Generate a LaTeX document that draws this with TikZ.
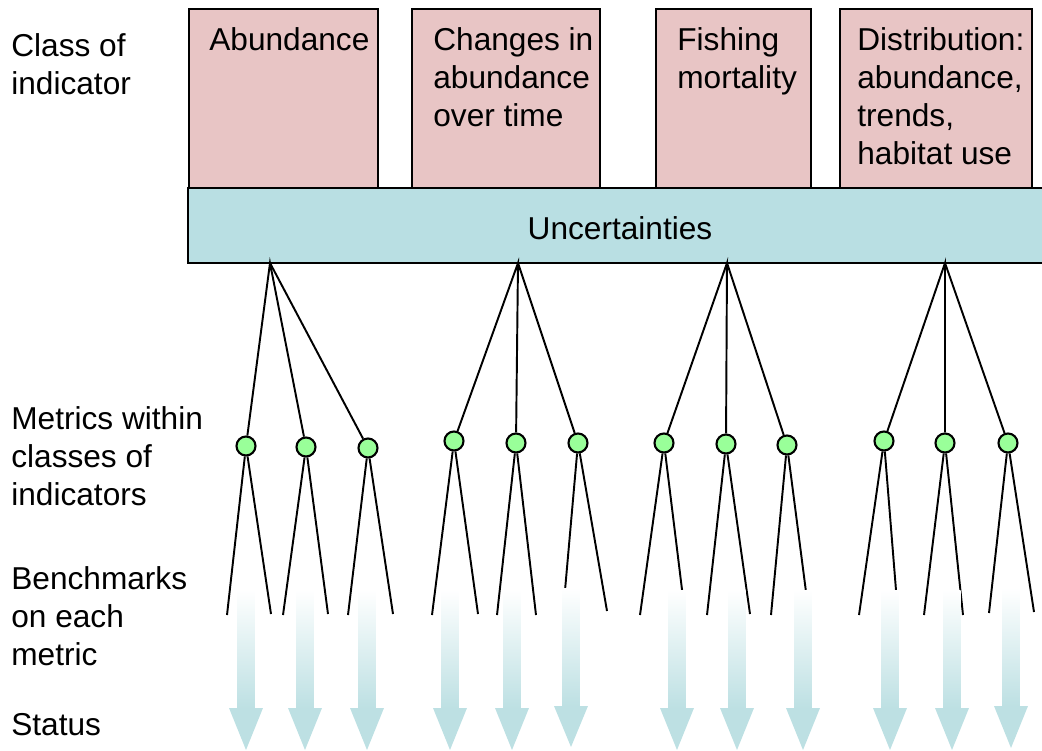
\documentclass[tikz,border=0pt]{standalone}
\usepackage{fontspec}
\setmainfont{Liberation Sans}
\usetikzlibrary{positioning}
\definecolor{classpink}{HTML}{E8C5C5}
\definecolor{uncblue}{HTML}{B9DFE3}
\definecolor{metricgreen}{HTML}{99FF99}
\definecolor{statusblue}{HTML}{BDE0E3}
\tikzset{
  txt/.style={font=\fontsize{18}{21.6}\selectfont, align=left, inner sep=0pt, anchor=north west},
  classbox/.style={draw, line width=1.3pt, fill=classpink, anchor=north west, inner sep=0pt},
  uncbox/.style={draw, line width=1.3pt, fill=uncblue, inner sep=0pt, text height=0.56cm, font=\fontsize{18}{21.6}\selectfont},
  metric/.style={circle, draw, line width=1.2pt, fill=metricgreen, minimum size=0.38cm, inner sep=0pt},
  link/.style={line width=1.1pt},
  statusshaft/.style={top color=white, bottom color=statusblue},
  statushead/.style={fill=statusblue}
}
\begin{document}
\begin{tikzpicture}
\useasboundingbox (0,0) rectangle (20.84,15);
% row labels
\node[txt] (lclass) at (0.22,14.34) {Class of\\indicator};
\node[txt] (lmetric) at (0.22,6.88) {Metrics within\\classes of\\indicators};
\node[txt] (lbench) at (0.22,3.68) {Benchmarks\\on each\\metric};
\node[txt] (lstatus) at (0.22,0.74) {Status};
% classes of indicator
\node[classbox, minimum width=3.78cm, minimum height=3.6cm] (abund) at (3.76,14.84) {};
\node[classbox, minimum width=3.76cm, minimum height=3.6cm] (change) at (8.22,14.84) {};
\node[classbox, minimum width=3.10cm, minimum height=3.6cm] (fish) at (13.10,14.84) {};
\node[classbox, minimum width=3.84cm, minimum height=3.6cm] (distr) at (16.78,14.84) {};
\node[txt, below right=0.38cm and 0.42cm of abund.north west] (tabund) {Abundance};
\node[txt, below right=0.38cm and 0.44cm of change.north west] (tchange) {Changes in\\abundance\\over time};
\node[txt, below right=0.38cm and 0.44cm of fish.north west] (tfish) {Fishing\\mortality};
\node[txt, below right=0.38cm and 0.36cm of distr.north west] (tdistr) {Distribution:\\abundance,\\trends,\\habitat use};
\node[uncbox, minimum width=17.28cm, minimum height=1.5cm] (unc) at (12.40,10.49) {Uncertainties};
% branch points
\coordinate (a1) at (5.40,9.74);
\coordinate (a2) at (10.36,9.74);
\coordinate (a3) at (14.54,9.74);
\coordinate (a4) at (18.90,9.74);
% metrics
\node[metric] (m1) at (4.92,6.08) {};
\node[metric] (m2) at (6.12,6.06) {};
\node[metric] (m3) at (7.36,6.04) {};
\node[metric] (m4) at (9.08,6.18) {};
\node[metric] (m5) at (10.32,6.14) {};
\node[metric] (m6) at (11.56,6.14) {};
\node[metric] (m7) at (13.28,6.14) {};
\node[metric] (m8) at (14.52,6.12) {};
\node[metric] (m9) at (15.74,6.10) {};
\node[metric] (m10) at (17.68,6.18) {};
\node[metric] (m11) at (18.90,6.14) {};
\node[metric] (m12) at (20.16,6.14) {};
\draw[link] (m1) -- (a1) -- (m2);
\draw[link] (a1) -- (m3);
\draw[link] (m4) -- (a2) -- (m5);
\draw[link] (a2) -- (m6);
\draw[link] (m7) -- (a3) -- (m8);
\draw[link] (a3) -- (m9);
\draw[link] (m10) -- (a4) -- (m11);
\draw[link] (a4) -- (m12);
% benchmarks
\coordinate (b1l) at (4.54,2.70);
\coordinate (b1r) at (5.42,2.72);
\coordinate (b2l) at (5.66,2.70);
\coordinate (b2r) at (6.56,2.72);
\coordinate (b3l) at (6.96,2.70);
\coordinate (b3r) at (7.86,2.72);
\coordinate (b4l) at (8.64,2.70);
\coordinate (b4r) at (9.56,2.72);
\coordinate (b5l) at (9.94,2.70);
\coordinate (b5r) at (10.72,2.70);
\coordinate (b6l) at (11.26,2.74);
\coordinate (b6r) at (12.14,2.78);
\coordinate (b7l) at (12.80,2.70);
\coordinate (b7r) at (13.70,2.72);
\coordinate (b8l) at (14.14,2.70);
\coordinate (b8r) at (15.00,2.72);
\coordinate (b9l) at (15.42,2.70);
\coordinate (b9r) at (16.18,2.70);
\coordinate (b10l) at (17.18,2.70);
\coordinate (b10r) at (17.96,2.70);
\coordinate (b11l) at (18.48,2.70);
\coordinate (b11r) at (19.26,2.70);
\coordinate (b12l) at (19.78,2.74);
\coordinate (b12r) at (20.68,2.76);
\draw[link] (b1l) -- (m1) -- (b1r);
\draw[link] (b2l) -- (m2) -- (b2r);
\draw[link] (b3l) -- (m3) -- (b3r);
\draw[link] (b4l) -- (m4) -- (b4r);
\draw[link] (b5l) -- (m5) -- (b5r);
\draw[link] (b6l) -- (m6) -- (b6r);
\draw[link] (b7l) -- (m7) -- (b7r);
\draw[link] (b8l) -- (m8) -- (b8r);
\draw[link] (b9l) -- (m9) -- (b9r);
\draw[link] (b10l) -- (m10) -- (b10r);
\draw[link] (b11l) -- (m11) -- (b11r);
\draw[link] (b12l) -- (m12) -- (b12r);
% status arrows
\shade[statusshaft] (4.75,3.20) rectangle (5.09,0.84);
\fill[statushead] (4.58,0.84) -- (5.26,0.84) -- (4.92,0.) -- cycle;
\shade[statusshaft] (5.93,3.20) rectangle (6.27,0.84);
\fill[statushead] (5.76,0.84) -- (6.44,0.84) -- (6.10,0.) -- cycle;
\shade[statusshaft] (7.17,3.20) rectangle (7.51,0.84);
\fill[statushead] (7.00,0.84) -- (7.68,0.84) -- (7.34,0.) -- cycle;
\shade[statusshaft] (8.83,3.20) rectangle (9.17,0.84);
\fill[statushead] (8.66,0.84) -- (9.34,0.84) -- (9.00,0.) -- cycle;
\shade[statusshaft] (10.07,3.20) rectangle (10.41,0.84);
\fill[statushead] (9.90,0.84) -- (10.58,0.84) -- (10.24,0.) -- cycle;
\shade[statusshaft] (11.25,3.24) rectangle (11.59,0.88);
\fill[statushead] (11.08,0.88) -- (11.76,0.88) -- (11.42,0.06) -- cycle;
\shade[statusshaft] (13.37,3.20) rectangle (13.71,0.84);
\fill[statushead] (13.20,0.84) -- (13.88,0.84) -- (13.54,0.) -- cycle;
\shade[statusshaft] (14.57,3.20) rectangle (14.91,0.84);
\fill[statushead] (14.40,0.84) -- (15.08,0.84) -- (14.74,0.) -- cycle;
\shade[statusshaft] (15.89,3.20) rectangle (16.23,0.84);
\fill[statushead] (15.72,0.84) -- (16.40,0.84) -- (16.06,0.) -- cycle;
\shade[statusshaft] (17.63,3.20) rectangle (17.97,0.84);
\fill[statushead] (17.46,0.84) -- (18.14,0.84) -- (17.80,0.) -- cycle;
\shade[statusshaft] (18.87,3.20) rectangle (19.21,0.84);
\fill[statushead] (18.70,0.84) -- (19.38,0.84) -- (19.04,0.) -- cycle;
\shade[statusshaft] (20.05,3.24) rectangle (20.39,0.88);
\fill[statushead] (19.88,0.88) -- (20.56,0.88) -- (20.22,0.04) -- cycle;
\end{tikzpicture}
\end{document}
